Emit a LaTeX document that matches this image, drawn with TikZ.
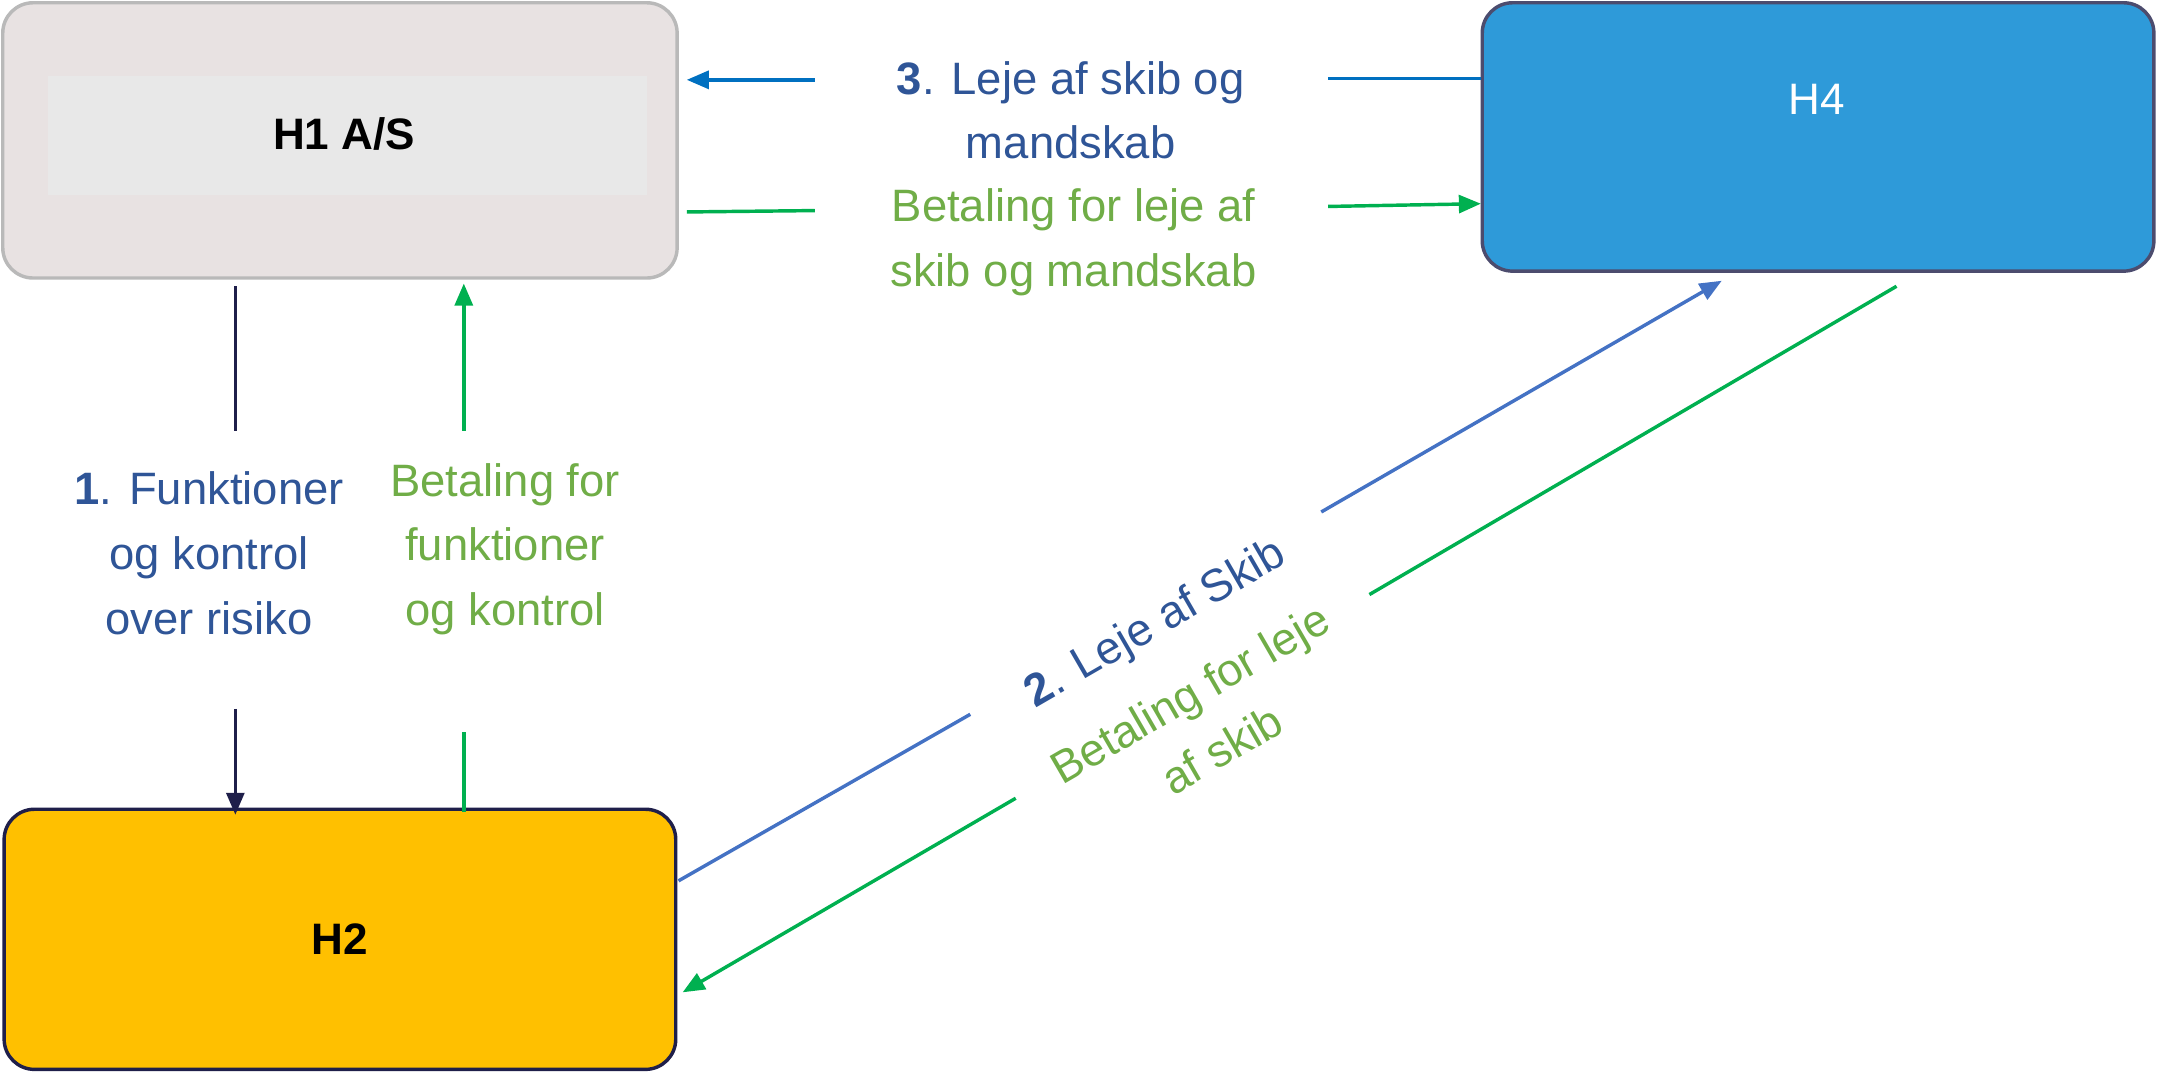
\documentclass[tikz,border=0pt]{standalone}
\usepackage{fontspec}
\setmainfont{Liberation Sans}
\usetikzlibrary{arrows.meta}
\definecolor{navy}{HTML}{1F1F4A}
\definecolor{grn}{HTML}{00B050}
\definecolor{blu}{HTML}{0070C0}
\definecolor{blu2}{HTML}{4472C4}
\definecolor{tblue}{HTML}{2F5597}
\definecolor{tgreen}{HTML}{70AD47}
\begin{document}
\begin{tikzpicture}[x=1pt,y=-1pt,
  box/.style={draw,line width=2.5pt,rounded corners=22pt,inner sep=0},
  lab/.style={font=\fontsize{33}{47}\selectfont,align=center},
  ln/.style={line width=2.5pt},
  arr/.style={ln,-{Triangle[length=16pt,width=13pt]}}]
\useasboundingbox (0,0) rectangle (1568,780);
\node[box,draw=gray!55,fill={rgb,255:red,232;green,226;blue,226},minimum width=490pt,minimum height=200pt] (h1) at (247,102) {};
\fill[gray!18] (35,55) rectangle (470,142);
\node[font=\fontsize{32}{37}\selectfont\bfseries] (h1t) at (250,97) {H1 A/S};
\node[box,draw=navy!80,fill={rgb,255:red,46;green,154;blue,217},minimum width=488pt,minimum height=195pt] (h4) at (1321,99.5) {};
\node[text=white,font=\fontsize{32}{37}\selectfont] (h4t) at (1320,72) {H4};
\node[box,draw=navy,fill={rgb,255:red,255;green,192;blue,0},minimum width=488pt,minimum height=189pt,font=\fontsize{32}{37}\selectfont\bfseries] (h2) at (247,682.5) {H2};

\coordinate (a1) at (171,208); \coordinate (a2) at (171,313);
\coordinate (a3) at (171,515); \coordinate (a4) at (171,592);
\draw[ln,navy] (a1) -- (a2); \draw[arr,navy] (a3) -- (a4);
\coordinate (b1) at (337,590); \coordinate (b2) at (337,532);
\coordinate (b3) at (337,313); \coordinate (b4) at (337,206);
\draw[ln,grn] (b1) -- (b2); \draw[arr,grn] (b3) -- (b4);
\coordinate (c1) at (1076,57); \coordinate (c2) at (965,57);
\coordinate (c3) at (592,58); \coordinate (c4) at (499,58);
\draw[ln,blu] (c1) -- (c2); \draw[arr,blu] (c3) -- (c4);
\coordinate (d1) at (499,154); \coordinate (d2) at (592,153);
\coordinate (d3) at (965,150); \coordinate (d4) at (1076,148);
\draw[ln,grn] (d1) -- (d2); \draw[arr,grn] (d3) -- (d4);
\coordinate (e1) at (493,640); \coordinate (e2) at (705,519);
\coordinate (e3) at (960,372); \coordinate (e4) at (1251,204);
\draw[ln,blu2] (e1) -- (e2); \draw[arr,blu2] (e3) -- (e4);
\coordinate (f1) at (1378,208); \coordinate (f2) at (995,432);
\coordinate (f3) at (738,580); \coordinate (f4) at (496,721);
\draw[ln,grn] (f1) -- (f2); \draw[arr,grn] (f3) -- (f4);

\node[lab,text=tblue] (l1) at (152,402) {\textbf{1}. Funktioner\\og kontrol\\over risiko};
\node[lab,text=tgreen] (l2) at (367,399) {Betaling for\\funktioner\\og kontrol};
\node[lab,text=tblue] (l3) at (778,80) {\textbf{3}. Leje af skib og\\mandskab};
\node[lab,text=tgreen] (l4) at (780,176) {Betaling for leje af\\skib og mandskab};
\node[lab,text=tblue,rotate=30] (l5) at (840,454) {\textbf{2}. Leje af Skib};
\node[lab,text=tgreen,rotate=30] (l6) at (876,524) {Betaling for leje\\af skib};
\end{tikzpicture}
\end{document}
